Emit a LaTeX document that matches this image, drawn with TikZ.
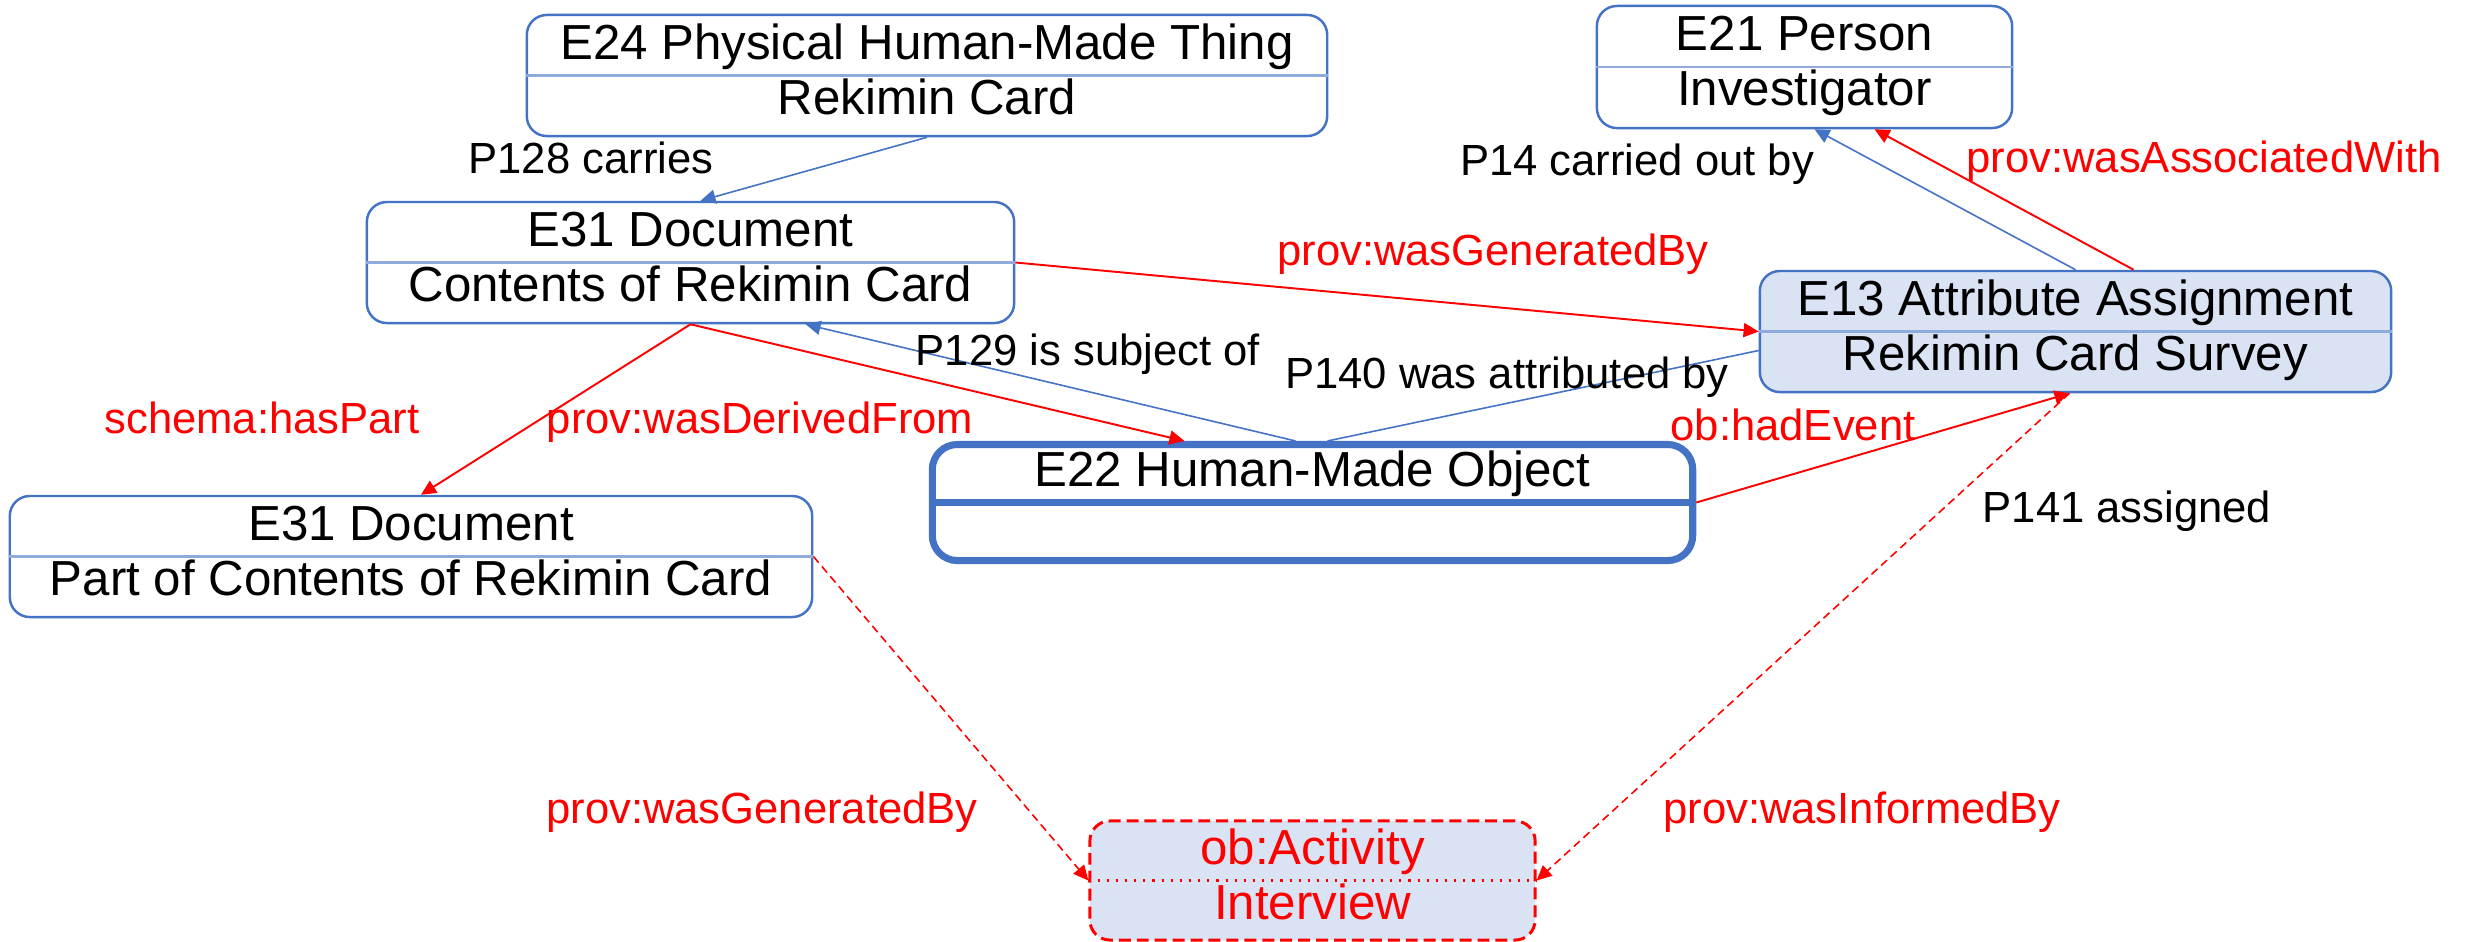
\documentclass[tikz,border=0pt]{standalone}
\usepackage{fontspec}
\setmainfont{Liberation Sans}
\usetikzlibrary{arrows.meta}

\definecolor{boxblue}{HTML}{4472C4}
\definecolor{divblue}{HTML}{8FAADC}
\definecolor{fillblue}{HTML}{DAE3F3}

\begin{document}
\begin{tikzpicture}[x=0.01cm, y=-0.01cm,
    classbox/.style={draw=boxblue, line width=0.7pt, rounded corners=0.2cm, fill=white,
        align=center, inner sep=0pt, font=\fontsize{14}{15.65}\selectfont,
        execute at begin node=\rule{0pt}{11.6pt}, execute at end node=\rule[-3.5pt]{0pt}{3.5pt}},
    proplabel/.style={font=\fontsize{12.4}{14}\selectfont, anchor=base, inner sep=0pt},
    provlabel/.style={proplabel, text=red},
    blueline/.style={draw=boxblue, line width=0.45pt},
    bluearrow/.style={blueline, -{Triangle[length=0.15cm, width=0.14cm]}},
    redarrow/.style={draw=red, line width=0.55pt, -{Triangle[length=0.15cm, width=0.14cm]}},
    reddashed/.style={redarrow, line width=0.45pt, dash pattern=on 2.3pt off 1.4pt}]

    \useasboundingbox (0,0) rectangle (2473,941);

    % Draw the boxes
    \node[classbox, minimum width=8cm, minimum height=1.21cm] (e24) at (927,75.5)
        {E24 Physical Human-Made Thing\\Rekimin Card};
    \node[classbox, minimum width=6.47cm, minimum height=1.21cm] (e31a) at (690.5,262.5)
        {E31 Document\\Contents of Rekimin Card};
    \node[classbox, minimum width=4.15cm, minimum height=1.22cm] (e21) at (1804.5,67)
        {E21 Person\\Investigator};
    \node[classbox, fill=fillblue, minimum width=6.31cm, minimum height=1.21cm] (e13) at (2075.5,331.5)
        {E13 Attribute Assignment\\Rekimin Card Survey};
    \node[classbox, minimum width=8.02cm, minimum height=1.21cm] (e31b) at (411,556.5)
        {E31 Document\\Part of Contents of Rekimin Card};
    \node[classbox, line width=2pt, rounded corners=0.25cm, minimum width=7.6cm, minimum height=1.16cm] (e22) at (1312.5,502.5)
        {E22 Human-Made Object\\};
    \node[classbox, draw=red, fill=fillblue, text=red, line width=0.85pt, dash pattern=on 3.4pt off 1.7pt,
        minimum width=4.45cm, minimum height=1.19cm] (act) at (1312.5,880.5)
        {ob:Activity\\Interview};

    % Draw the lines between the two rows of each box
    \draw[divblue, line width=0.7pt] (e24.west) -- (e24.east);
    \draw[divblue, line width=0.7pt] (e31a.west) -- (e31a.east);
    \draw[divblue, line width=0.7pt] (e21.west) -- (e21.east);
    \draw[divblue, line width=0.7pt] (e13.west) -- (e13.east);
    \draw[divblue, line width=0.7pt] (e31b.west) -- (e31b.east);
    \draw[boxblue, line width=2pt] (e22.west) -- (e22.east);
    \draw[red, line width=0.6pt, dotted] (act.west) -- (act.east);

    % Draw the CRM properties
    \draw[bluearrow] (e24.south) -- ([xshift=0.1cm]e31a.north);
    \draw[bluearrow] (e13.north) -- ([xshift=0.1cm]e21.south);
    \draw[bluearrow] ([xshift=-0.17cm]e22.north) -- ([xshift=1.15cm]e31a.south);
    \draw[blueline] ([xshift=0.15cm]e22.north) -- ([yshift=-0.19cm]e13.west);

    % Draw the prov and schema properties
    \draw[redarrow] ([xshift=0.58cm]e13.north) -- ([xshift=0.7cm]e21.south);
    \draw[redarrow] (e31a.east) -- (e13.west);
    \draw[redarrow] (e31a.south) -- ([xshift=-1.28cm]e22.north);
    \draw[redarrow] (e31a.south) -- ([xshift=0.1cm]e31b.north);
    \draw[redarrow] (e22.east) -- ([xshift=-0.06cm]e13.south);
    \draw[reddashed] (e31b.east) -- (act.west);
    \draw[reddashed] ([xshift=-0.06cm]e13.south) -- (act.east);

    % Labels
    \node[proplabel] (lcarries) at (591,173) {P128 carries};
    \node[proplabel] (lcarriedout) at (1637,175) {P14 carried out by};
    \node[provlabel] (lassociated) at (2204,172) {prov:wasAssociatedWith};
    \node[provlabel] (lgenerated) at (1493,265) {prov:wasGeneratedBy};
    \node[proplabel] (lsubject) at (1088,365) {P129 is subject of};
    \node[proplabel] (lattributed) at (1507,388) {P140 was attributed by};
    \node[provlabel] (lderived) at (760,433) {prov:wasDerivedFrom};
    \node[provlabel] (lhaspart) at (262,433) {schema:hasPart};
    \node[provlabel] (lhadevent) at (1793,440) {ob:hadEvent};
    \node[proplabel] (lassigned) at (2127,522) {P141 assigned};
    \node[provlabel] (lgenpart) at (762,823) {prov:wasGeneratedBy};
    \node[provlabel] (linformed) at (1862,823) {prov:wasInformedBy};

\end{tikzpicture}
\end{document}
